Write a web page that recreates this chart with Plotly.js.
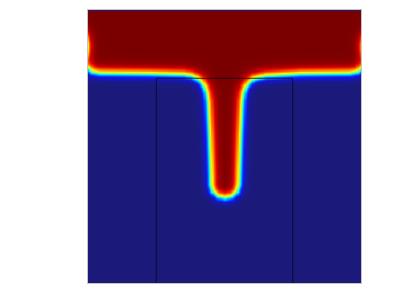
<!DOCTYPE html>
<html>
<head>
<meta charset="utf-8">
<script src="https://cdn.plot.ly/plotly-3.0.1.min.js"></script>
<style>html,body{margin:0;padding:0;background:#fff;}#chart{width:415px;height:288px;}</style>
</head>
<body>
<div id="chart"></div>
<script>
// Interface (phase = 0.5 contour), left wall -> finger -> right wall
const contourX = [0.000, 0.015, 0.044, 0.227, 0.350, 0.378, 0.398, 0.414, 0.425, 0.432, 0.437, 0.443, 0.447, 0.448, 0.448, 0.4555, 0.4745, 0.500,
                  0.5255, 0.5445, 0.552, 0.553, 0.554, 0.558, 0.564, 0.569, 0.577, 0.590, 0.608, 0.650, 0.777, 0.956, 0.985, 1.000];
const contourY = [0.787, 0.775, 0.770, 0.768, 0.765, 0.760, 0.750, 0.737, 0.719, 0.698, 0.665, 0.535, 0.414, 0.377, 0.3626, 0.3370, 0.3195, 0.313,
                  0.3195, 0.3370, 0.3626, 0.377, 0.414, 0.535, 0.665, 0.698, 0.719, 0.737, 0.750, 0.760, 0.768, 0.770, 0.775, 0.787];
// Diffuse interface half-thickness (inside liquid / outside)
const epsIn = [0.021];
const epsOut = [0.016];
// Lighter spot on the side walls in the upper layer
const wallSpotY = [0.866];
const wallSpotDepth = [0.38];
// Subdomain boundary lines
const meshVX = [0.25, 0.75];
const meshVY = [0.0, 0.75];
const meshHY = [0.75];
const meshHX = [0.25, 0.75];

const N = 240;
const xs = [], ys = [];
for (let i = 0; i < N; i++) { xs.push(i / (N - 1)); ys.push(i / (N - 1)); }

const polyX = contourX.concat([1, 0]);
const polyY = contourY.concat([1, 1]);
function inside(px, py) {
  let c = false;
  for (let i = 0, j = polyX.length - 1; i < polyX.length; j = i++) {
    if (((polyY[i] > py) !== (polyY[j] > py)) &&
        (px < (polyX[j] - polyX[i]) * (py - polyY[i]) / (polyY[j] - polyY[i]) + polyX[i])) c = !c;
  }
  return c;
}
function distToLine(px, py) {
  let best = Infinity;
  for (let k = 0; k < contourX.length - 1; k++) {
    const ax = contourX[k], ay = contourY[k], bx = contourX[k + 1], by = contourY[k + 1];
    const dx = bx - ax, dy = by - ay;
    let t = ((px - ax) * dx + (py - ay) * dy) / (dx * dx + dy * dy);
    t = Math.max(0, Math.min(1, t));
    const ex = ax + t * dx - px, ey = ay + t * dy - py;
    const d = Math.sqrt(ex * ex + ey * ey);
    if (d < best) best = d;
  }
  return best;
}
const z = [];
for (let j = 0; j < N; j++) {
  const row = [];
  for (let i = 0; i < N; i++) {
    const x = xs[i], y = ys[j];
    const d = distToLine(x, y);
    const ins = inside(x, y);
    let phi = ins ? 0.5 * (1 + Math.tanh(d / epsIn[0])) : 0.5 * (1 - Math.tanh(d / epsOut[0]));
    const dw = Math.min(x, 1 - x);
    phi -= wallSpotDepth[0] * Math.exp(-dw / 0.009) * Math.exp(-Math.pow((y - wallSpotY[0]) / 0.05, 2)) * phi;
    row.push(phi);
  }
  z.push(row);
}

const jet = [
  [0.0, 'rgb(27,26,122)'],
  [0.11, 'rgb(20,20,230)'],
  [0.2, 'rgb(0,90,255)'],
  [0.36, 'rgb(0,235,255)'],
  [0.5, 'rgb(130,255,120)'],
  [0.64, 'rgb(255,240,0)'],
  [0.8, 'rgb(255,80,0)'],
  [0.9, 'rgb(215,0,0)'],
  [1.0, 'rgb(122,0,0)']
];

const shapes = [];
meshVX.forEach(vx => shapes.push({type: 'line', xref: 'x', yref: 'y', x0: vx, x1: vx, y0: meshVY[0], y1: meshVY[1],
  line: {color: 'rgba(10,10,30,0.85)', width: 1}}));
shapes.push({type: 'line', xref: 'x', yref: 'y', x0: meshHX[0], x1: meshHX[1], y0: meshHY[0], y1: meshHY[0],
  line: {color: 'rgba(10,10,30,0.85)', width: 1}});

const data = [{
  type: 'heatmap', x: xs, y: ys, z: z, zmin: 0, zmax: 1,
  colorscale: jet, showscale: false, zsmooth: 'best', hoverinfo: 'skip'
}];
const axis = {range: [0, 1], showgrid: false, zeroline: false, showticklabels: false, ticks: '',
  showline: true, mirror: true, linecolor: '#c4c4c4', linewidth: 1, fixedrange: true};
const layout = {
  width: 415, height: 288,
  margin: {l: 88, r: 54, t: 10, b: 5, pad: 0},
  paper_bgcolor: '#ffffff', plot_bgcolor: '#ffffff',
  xaxis: Object.assign({}, axis),
  yaxis: Object.assign({}, axis),
  shapes: shapes,
  showlegend: false
};
Plotly.newPlot('chart', data, layout, {staticPlot: true, displayModeBar: false});
</script>
</body>
</html>
